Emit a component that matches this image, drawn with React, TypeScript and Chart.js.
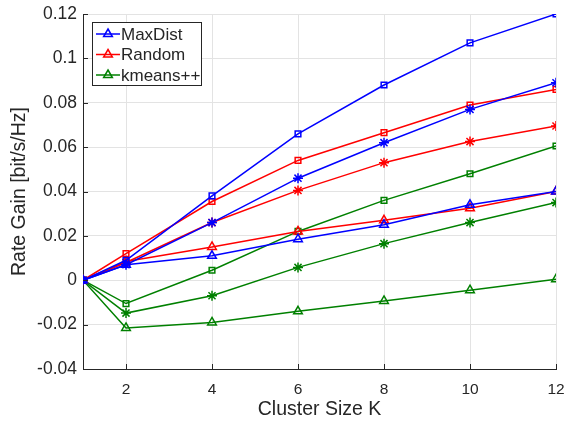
import React, { useEffect, useRef } from "react";
import { Chart, registerables } from "chart.js";
Chart.register(...registerables);

const kValues = [1, 2, 4, 6, 8, 10, 12];
const xTickValues = [2, 4, 6, 8, 10, 12];

const maxDistSquare = [0, 0.009, 0.038, 0.066, 0.088, 0.107, 0.12];
const maxDistStar = [0, 0.007, 0.026, 0.046, 0.062, 0.077, 0.089];
const maxDistTriangle = [0, 0.007, 0.011, 0.0185, 0.025, 0.034, 0.04];

const randomSquare = [0, 0.012, 0.0355, 0.054, 0.0665, 0.079, 0.086];
const randomStar = [0, 0.008, 0.026, 0.0405, 0.053, 0.0625, 0.0695];
const randomTriangle = [0, 0.0085, 0.015, 0.022, 0.027, 0.0325, 0.04];

const kmeansSquare = [0, -0.0105, 0.0045, 0.022, 0.036, 0.048, 0.0605];
const kmeansStar = [0, -0.0148, -0.007, 0.0058, 0.0165, 0.026, 0.035];
const kmeansTriangle = [0, -0.0215, -0.019, -0.014, -0.0093, -0.0045, 0.0005];

const legendLabels = ["MaxDist", "Random", "kmeans++"];
const BLUE = "#0000ff";
const RED = "#ff0000";
const GREEN = "#008000";
const AXIS = "#262626";
const FONT = "'Liberation Sans', Arial, Helvetica, sans-serif";

function series(label: string, ys: number[], color: string, marker: string) {
  return {
    label,
    data: kValues.map((x, i) => ({ x, y: ys[i] })),
    borderColor: color,
    backgroundColor: "rgba(0,0,0,0)",
    borderWidth: 1.5,
    pointStyle: marker,
    pointRadius: marker === "rect" ? 4 : 5,
    pointBorderWidth: 1.5,
    pointBorderColor: color,
    pointBackgroundColor: "rgba(0,0,0,0)",
    tension: 0,
  };
}

const legendPlugin = {
  id: "insideLegend",
  afterDraw(chart: any) {
    const ctx = chart.ctx;
    const { left, bottom } = chart.chartArea;
    ctx.save();
    const xs = chart.scales.x;
    const ys = chart.scales.y;
    ctx.strokeStyle = AXIS;
    ctx.lineWidth = 1;
    ys.ticks.forEach((t: any) => {
      const py = Math.round(ys.getPixelForValue(t.value)) + 0.5;
      ctx.beginPath();
      ctx.moveTo(left, py);
      ctx.lineTo(left + 5, py);
      ctx.stroke();
    });
    xs.ticks.forEach((t: any) => {
      const px = Math.round(xs.getPixelForValue(t.value)) + 0.5;
      ctx.beginPath();
      ctx.moveTo(px, bottom);
      ctx.lineTo(px, bottom - 5);
      ctx.stroke();
    });
    const bx = 92.5, by = 22.5, bw = 109, bh = 63;
    ctx.fillStyle = "#ffffff";
    ctx.fillRect(bx, by, bw, bh);
    ctx.strokeStyle = AXIS;
    ctx.lineWidth = 1;
    ctx.strokeRect(bx, by, bw, bh);
    const colors = [BLUE, RED, GREEN];
    ctx.font = `17px ${FONT}`;
    ctx.textBaseline = "middle";
    legendLabels.forEach((lab, i) => {
      const cy = 34 + i * 20.5;
      ctx.strokeStyle = colors[i];
      ctx.lineWidth = 1.5;
      ctx.beginPath();
      ctx.moveTo(96, cy);
      ctx.lineTo(120, cy);
      ctx.stroke();
      const r = 5;
      ctx.beginPath();
      ctx.moveTo(108, cy - r);
      ctx.lineTo(108 + r * 0.87, cy + r * 0.5);
      ctx.lineTo(108 - r * 0.87, cy + r * 0.5);
      ctx.closePath();
      ctx.stroke();
      ctx.fillStyle = AXIS;
      ctx.fillText(lab, 121, cy + 1);
    });
    ctx.restore();
  },
};

export default function App() {
  const ref = useRef<HTMLCanvasElement | null>(null);
  useEffect(() => {
    if (!ref.current) return;
    const chart = new Chart(ref.current, {
      type: "line",
      data: {
        datasets: [
          series("MaxDist", maxDistSquare, BLUE, "rect"),
          series("MaxDist", maxDistStar, BLUE, "star"),
          series("MaxDist", maxDistTriangle, BLUE, "triangle"),
          series("Random", randomSquare, RED, "rect"),
          series("Random", randomStar, RED, "star"),
          series("Random", randomTriangle, RED, "triangle"),
          series("kmeans++", kmeansSquare, GREEN, "rect"),
          series("kmeans++", kmeansStar, GREEN, "star"),
          series("kmeans++", kmeansTriangle, GREEN, "triangle"),
        ] as any,
      },
      options: {
        animation: false,
        responsive: false,
        maintainAspectRatio: false,
        layout: { padding: { top: 14, right: 11, left: 0, bottom: 0 } },
        plugins: { legend: { display: false }, tooltip: { enabled: false } },
        scales: {
          x: {
            type: "linear",
            min: 1,
            max: 12,
            afterBuildTicks: (s: any) => {
              s.ticks = xTickValues.map((v) => ({ value: v }));
            },
            afterFit: (s: any) => {
              s.height = 52;
              s.paddingRight = 0;
              s.paddingLeft = 0;
            },
            grid: { color: "#e3e3e3", drawTicks: false, lineWidth: 1 },
            border: { display: true, color: AXIS, width: 1 },
            ticks: { color: AXIS, font: { family: FONT, size: 15.5 }, padding: 11, maxRotation: 0 },
            title: {
              display: true,
              text: "Cluster Size K",
              color: AXIS,
              font: { family: FONT, size: 19.5 },
              padding: { top: 1, bottom: 0 },
            },
          },
          y: {
            type: "linear",
            min: -0.04,
            max: 0.12,
            ticks: {
              stepSize: 0.02,
              color: AXIS,
              font: { family: FONT, size: 17.5 },
              padding: 6,
              callback: (v: any) => {
                const n = Math.round(Number(v) * 100) / 100;
                return String(n);
              },
            },
            afterFit: (s: any) => {
              s.width = 83;
              s.paddingTop = 0;
              s.paddingBottom = 0;
            },
            grid: { color: "#e3e3e3", drawTicks: false, lineWidth: 1 },
            border: { display: true, color: AXIS, width: 1 },
            title: {
              display: true,
              text: "Rate Gain [bit/s/Hz]",
              color: AXIS,
              font: { family: FONT, size: 19.5 },
              padding: { top: 8, bottom: 0 },
            },
          },
        },
      },
      plugins: [legendPlugin],
    });
    return () => chart.destroy();
  }, []);
  return (
    <div style={{ position: "fixed", left: 0, top: 0, width: 567, height: 421, background: "#fff" }}>
      <canvas ref={ref} width={567} height={421} style={{ display: "block" }} />
    </div>
  );
}
